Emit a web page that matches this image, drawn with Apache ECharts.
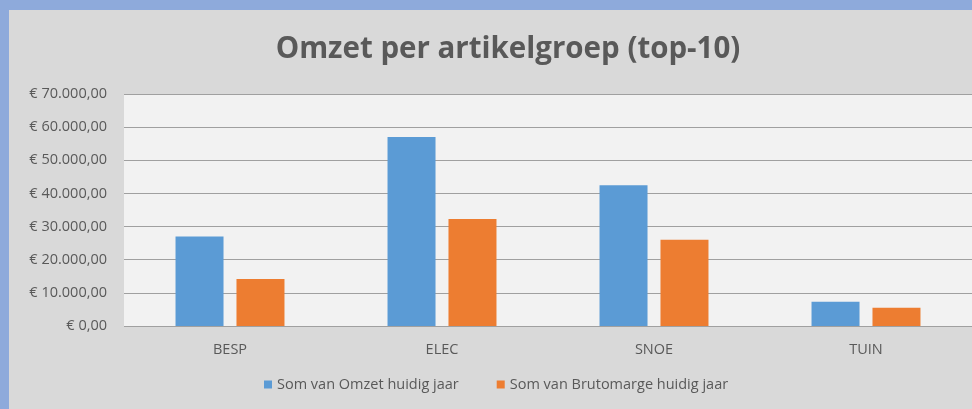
<!DOCTYPE html>
<html>
<head>
<meta charset="utf-8">
<script src="https://cdn.jsdelivr.net/npm/echarts@6/dist/echarts.min.js"></script>
<style>
  html, body { margin: 0; padding: 0; background: #8eaadb; }
  #frame { position: absolute; left: 9px; top: 10px; width: 963px; height: 399px; background: #d9d9d9; }
  #chart { position: absolute; left: 0; top: 0; width: 972px; height: 409px; }
</style>
</head>
<body>
<div id="frame"></div>
<div id="chart"></div>
<script>
const categories = ["BESP", "ELEC", "SNOE", "TUIN"];
const omzet = [27000, 57000, 42500, 7300];
const brutomarge = [14200, 32300, 26000, 5500];
const seriesNames = ["Som van Omzet huidig jaar", "Som van Brutomarge huidig jaar"];

// euro notatie: € 10.000,00
function euro(v) {
  const parts = v.toFixed(2).split(".");
  const whole = parts[0].replace(/\B(?=(\d{3})+(?!\d))/g, ".");
  return "€ " + whole + "," + parts[1];
}

const font = "'Open Sans', Lato, sans-serif";
const myChart = echarts.init(document.getElementById("chart"));
const option = {
  backgroundColor: "transparent",
  textStyle: { fontFamily: font },
  title: {
    text: "Omzet per artikelgroep (top-10)",
    left: 503,
    textAlign: "center",
    top: 30,
    textStyle: { fontSize: 29.5, fontWeight: "bold", color: "#595959", fontFamily: font },
  },
  legend: {
    bottom: 12,
    left: 259,
    icon: "rect",
    itemWidth: 8,
    itemHeight: 8,
    itemGap: 38,
    textStyle: { color: "#595959", fontSize: 14.5, fontFamily: font },
  },
  grid: {
    left: 124,
    right: 0,
    top: 94,
    bottom: 83,
    show: true,
    backgroundColor: "#f2f2f2",
    borderWidth: 0,
  },
  xAxis: {
    type: "category",
    data: categories,
    axisLine: { show: false },
    axisTick: { show: false },
    axisLabel: { color: "#595959", fontSize: 14.5, margin: 16, fontFamily: font },
  },
  yAxis: {
    type: "value",
    min: 0,
    max: 70000,
    interval: 10000,
    axisLabel: { color: "#595959", fontSize: 14.5, margin: 17, formatter: euro, fontFamily: font },
    splitLine: { lineStyle: { color: "#a0a0a0", width: 1 } },
  },
  series: [
    {
      name: seriesNames[0],
      type: "bar",
      data: omzet,
      barWidth: 48,
      barGap: "27%",
      itemStyle: { color: "#5b9bd5" },
    },
    {
      name: seriesNames[1],
      type: "bar",
      data: brutomarge,
      barWidth: 48,
      itemStyle: { color: "#ed7d31" },
    },
  ],
};
myChart.setOption(option);
</script>
</body>
</html>
